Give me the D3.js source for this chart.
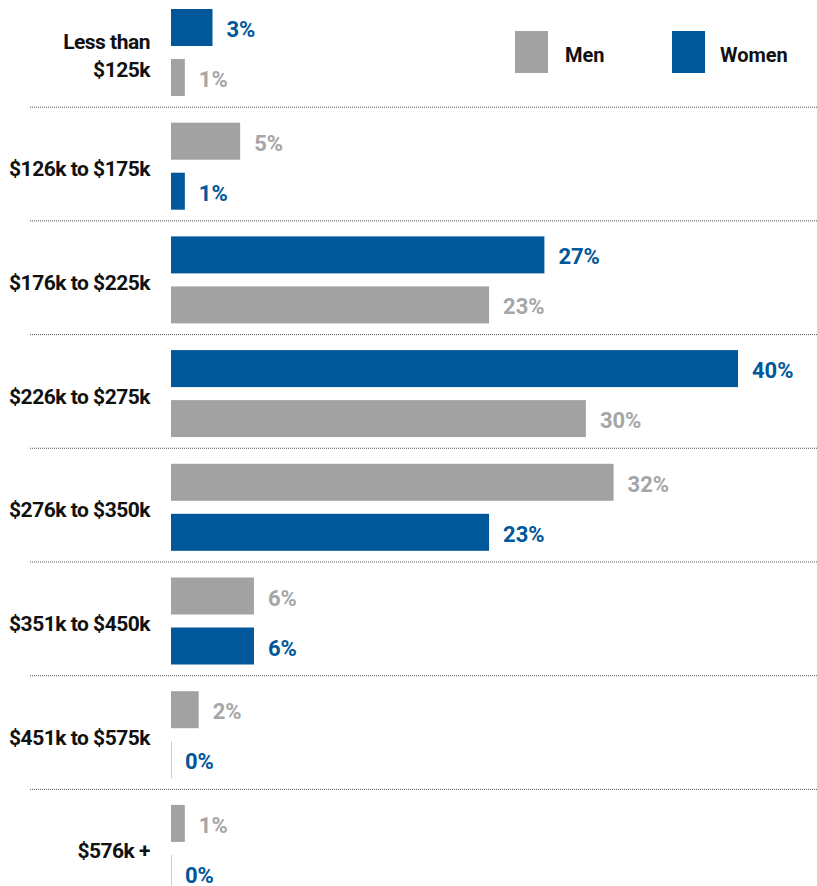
<!DOCTYPE html>
<html>
<head>
<meta charset="utf-8">
<script src="https://cdn.jsdelivr.net/npm/d3@7/dist/d3.min.js"></script>
<style>
  html, body { margin: 0; padding: 0; background: #fff; }
  svg { display: block; }
  text { font-family: Roboto, "Noto Sans", sans-serif; font-weight: 700; }
</style>
</head>
<body>
<svg id="chart" width="817" height="886"></svg>
<script>
// ---- data ----
const categories = ["Less than|$125k", "$126k to $175k", "$176k to $225k", "$226k to $275k",
                    "$276k to $350k", "$351k to $450k", "$451k to $575k", "$576k +"];
const seriesNames = ["Men", "Women"];
const menValues   = [1, 5, 23, 30, 32, 6, 2, 1];
const womenValues = [3, 1, 27, 41, 23, 6, 0, 0];
const menLabels   = ["1%", "5%", "23%", "30%", "32%", "6%", "2%", "1%"];
const womenLabels = ["3%", "1%", "27%", "40%", "23%", "6%", "0%", "0%"];

// ---- styles ----
const colors = { Men: "#A2A2A2", Women: "#005799" };
const textColors = { Men: "#A6A6A6", Women: "#005799" };
const zeroColor = "#C3D1DF";

const svg = d3.select("#chart");
const W = 817;

const x = d3.scaleLinear().domain([0, 41]).range([171, 738]);

const groupStep = 113.7;
const groupInner = 87;
const y = d3.scaleBand().domain(categories)
  .range([9, 9 + groupStep * categories.length]).paddingInner(0).paddingOuter(0);
const yIn = d3.scaleBand().domain([0, 1]).range([0, groupInner]).paddingInner(0.26);

const rows = categories.map((c, i) => {
  const m = { series: "Men", value: menValues[i], label: menLabels[i] };
  const w = { series: "Women", value: womenValues[i], label: womenLabels[i] };
  const ordered = w.value > m.value ? [w, m] : [m, w];
  return { category: c, bars: ordered };
});

// separators
svg.append("g").selectAll("line")
  .data(categories.slice(1))
  .join("line")
  .attr("x1", 30).attr("x2", W)
  .attr("y1", d => y(d) - (y.step() - groupInner) * 0.6 + 0.5)
  .attr("y2", d => y(d) - (y.step() - groupInner) * 0.6 + 0.5)
  .attr("stroke", "#555")
  .attr("stroke-width", 1)
  .attr("stroke-dasharray", "1,1");

// groups
const g = svg.append("g").selectAll("g.row")
  .data(rows)
  .join("g")
  .attr("class", "row")
  .attr("transform", d => `translate(0,${y(d.category)})`);

// category labels
g.each(function(d) {
  const lines = d.category.split("|");
  const cy = groupInner / 2;
  const t = d3.select(this).append("text")
    .attr("text-anchor", "end")
    .attr("font-size", 21)
    .attr("letter-spacing", "-0.5px")
    .attr("fill", "#111");
  lines.forEach((ln, k) => {
    t.append("tspan")
      .attr("x", 150)
      .attr("y", cy + 10 + (k - (lines.length - 1) / 2) * 28)
      .text(ln);
  });
});

// bars
const bars = g.selectAll("g.bar")
  .data(d => d.bars.map((b, k) => ({ ...b, k })))
  .join("g").attr("class", "bar")
  .attr("transform", d => `translate(0,${yIn(d.k)})`);

bars.append("rect")
  .attr("x", x(0))
  .attr("y", 0)
  .attr("width", d => d.value > 0 ? x(d.value) - x(0) : 1)
  .attr("height", yIn.bandwidth())
  .attr("fill", d => d.value > 0 ? colors[d.series] : zeroColor);

bars.append("text")
  .attr("x", d => x(d.value) + 14)
  .attr("y", yIn.bandwidth() / 2 + 9.5)
  .attr("font-size", 22)
  .attr("fill", d => textColors[d.series])
  .text(d => d.label);

// legend
const legendX = { Men: 515, Women: 672 };
const legend = svg.append("g").selectAll("g")
  .data(seriesNames).join("g")
  .attr("transform", d => `translate(${legendX[d]},31)`);
legend.append("rect").attr("width", 33).attr("height", 42).attr("fill", d => colors[d]);
legend.append("text").attr("x", d => d === "Men" ? 50 : 48).attr("y", 31)
  .attr("font-size", 20).attr("fill", "#111").text(d => d);
</script>
</body>
</html>
